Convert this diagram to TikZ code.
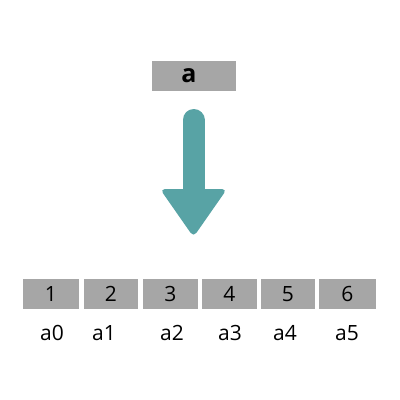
\documentclass[tikz,border=0pt]{standalone}
\usepackage{fontspec}
\setmainfont{Open Sans}
\definecolor{boxgray}{HTML}{A6A6A6}
\definecolor{teal1}{HTML}{58A3A5}
\tikzset{
  cell/.style={fill=boxgray, draw=none, minimum width=55pt, minimum height=30pt, inner sep=0pt, font=\fontsize{21}{22}\selectfont},
  lab/.style={font=\fontsize{21}{22}\selectfont, inner sep=0pt}
}
\begin{document}
\begin{tikzpicture}[x=1pt,y=-1pt]
\useasboundingbox (0,0) rectangle (400,400);
\node[cell, minimum width=84pt, font=\fontsize{25}{26}\selectfont\bfseries] (a) at (194,76) {\hspace*{-10pt}a};
% arrow
\coordinate (s1) at (193.5,120);
\coordinate (s2) at (193.5,195);
\draw[teal1, line width=22pt, line cap=round] (s1) -- (s2);
\fill[teal1, rounded corners=5pt] (160,189) -- (227,189) -- (193.5,237) -- cycle;
% cells
\node[cell, minimum width=56pt] (c1) at (51,294) {1};
\node[cell, minimum width=54pt] (c2) at (111,294) {2};
\node[cell, minimum width=55pt] (c3) at (170.5,294) {3};
\node[cell, minimum width=55pt] (c4) at (229.5,294) {4};
\node[cell, minimum width=54pt] (c5) at (288,294) {5};
\node[cell, minimum width=57pt] (c6) at (347.5,294) {6};
\node[lab] (l0) at (52,333) {a0};
\node[lab] (l1) at (104,333) {a1};
\node[lab] (l2) at (172,333) {a2};
\node[lab] (l3) at (230,333) {a3};
\node[lab] (l4) at (285,333) {a4};
\node[lab] (l5) at (347,333) {a5};
\end{tikzpicture}
\end{document}
